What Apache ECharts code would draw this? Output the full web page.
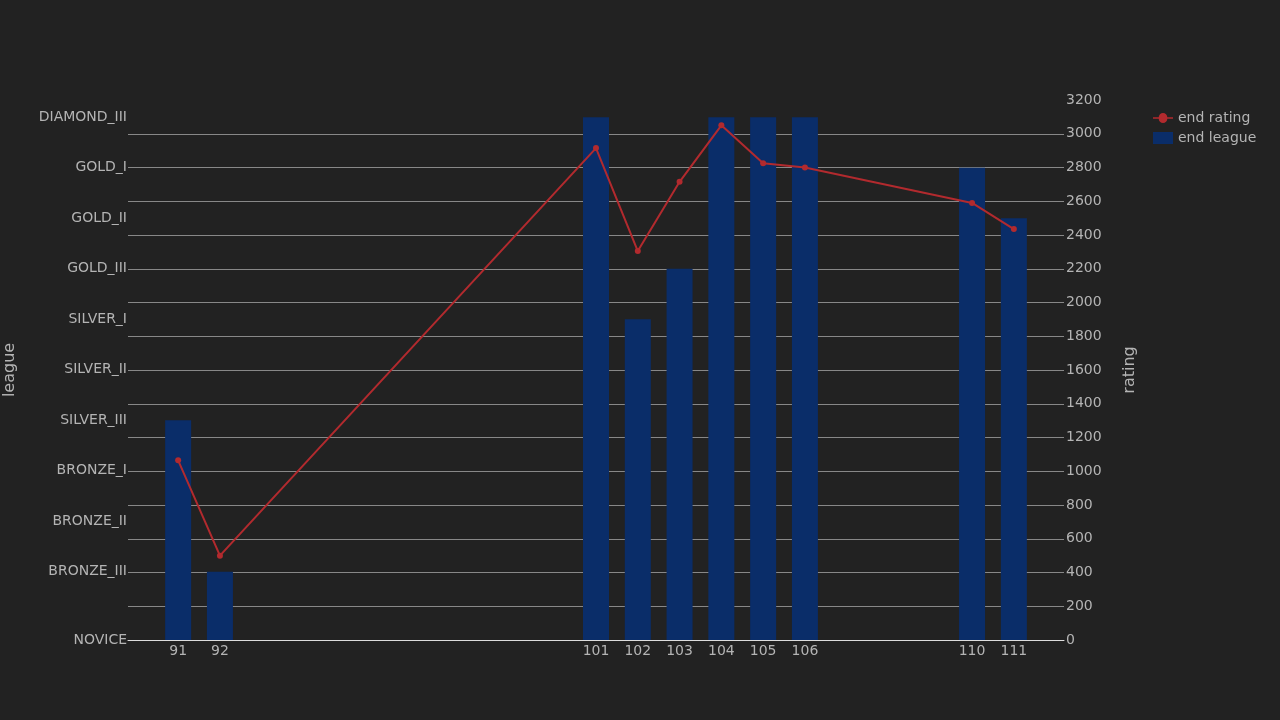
<!DOCTYPE html>
<html><head><meta charset="utf-8">
<script src="https://cdn.jsdelivr.net/npm/echarts@6/dist/echarts.min.js"></script>
<style>html,body{margin:0;background:#222;}#c{width:1280px;height:720px;}</style>
</head><body><div id="c"></div>
<script>
const leagues = ['NOVICE','BRONZE_III','BRONZE_II','BRONZE_I','SILVER_III','SILVER_II','SILVER_I','GOLD_III','GOLD_II','GOLD_I','DIAMOND_III'];
const seasons = [91,92,101,102,103,104,105,106,110,111];
const endLeague = ['SILVER_III','BRONZE_III','DIAMOND_III','SILVER_I','GOLD_III','DIAMOND_III','DIAMOND_III','DIAMOND_III','GOLD_I','GOLD_II'];
const endRating = [1065,500,2915,2305,2715,3050,2825,2800,2590,2435];
const off = 0.35;
const tc = '#b4b4b4';
const leagueTicks = leagues.map((l,i)=> i===0 ? 0 : i+off);
const chart = echarts.init(document.getElementById('c'));
chart.setOption({
  backgroundColor:'#222',
  textStyle:{fontFamily:'DejaVu Sans'},
  grid:{left:128,right:216,top:100,bottom:80,containLabel:false,outerBoundsMode:'none'},
  legend:{orient:'vertical',left:1148,top:106,itemGap:6,textStyle:{color:tc,fontSize:14},
    data:[{name:'end rating',icon:'path://M0,5L4,5A3,3,0,1,1,10,5L14,5L14,6L10,6A3,3,0,1,1,4,6L0,6Z'},{name:'end league',icon:'rect'}],
    itemWidth:20,itemHeight:12},
  xAxis:{type:'value',min:89.8,max:112.2,
    axisLine:{show:true,lineStyle:{color:'#ddd'}},axisTick:{show:false},splitLine:{show:false},
    axisLabel:{customValues:seasons,color:tc,fontSize:14,margin:4}},
  yAxis:[
    {type:'value',min:0,max:10.69,name:'league',nameLocation:'middle',nameGap:110,
     nameTextStyle:{color:tc,fontSize:16},
     axisLine:{show:false},axisTick:{show:false},splitLine:{show:false},
     axisLabel:{customValues:leagueTicks,color:tc,fontSize:14,margin:1,
       formatter:v=>leagues[v<0.1?0:Math.round(v-off)]}},
    {type:'value',min:0,max:3200,interval:200,position:'right',name:'rating',nameLocation:'middle',nameGap:58,
     nameTextStyle:{color:tc,fontSize:16},
     axisLine:{show:false},axisTick:{show:false},
     splitLine:{showMaxLine:false,lineStyle:{color:'#888',width:1}},
     axisLabel:{color:tc,fontSize:14,margin:2,formatter:v=>String(v)}}
  ],
  series:[
    {name:'end league',type:'bar',yAxisIndex:0,barWidth:26,itemStyle:{color:'#0a2d69'},
     data:seasons.map((s,i)=>[s,leagues.indexOf(endLeague[i])+off]),z:2},
    {name:'end rating',type:'line',yAxisIndex:1,symbol:'circle',symbolSize:6,
     lineStyle:{color:'#b22a2e',width:2},itemStyle:{color:'#b22a2e'},
     data:seasons.map((s,i)=>[s,endRating[i]]),z:3}
  ]
});
</script></body></html>
